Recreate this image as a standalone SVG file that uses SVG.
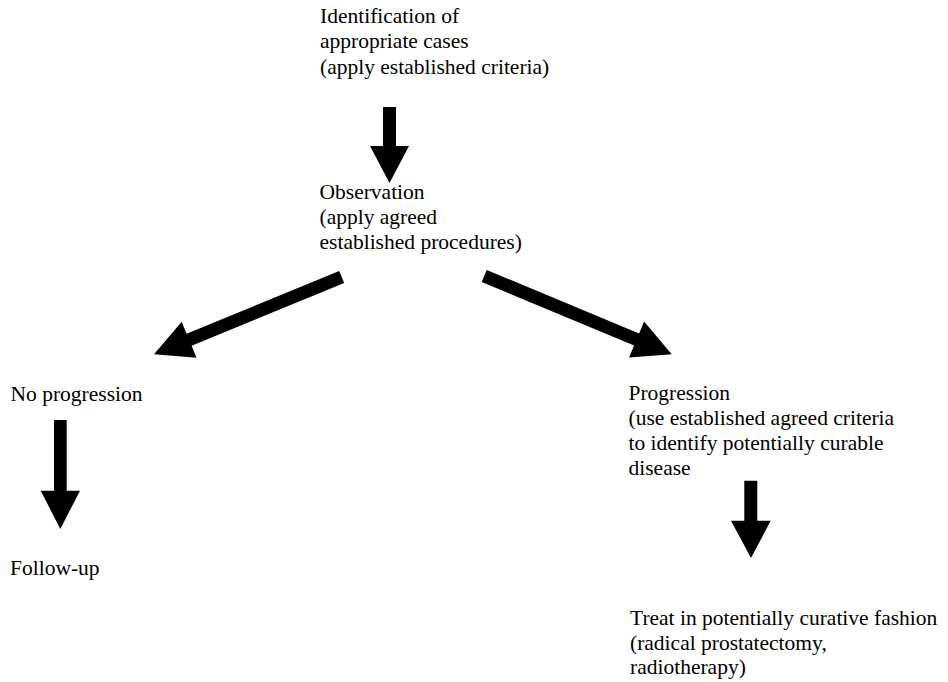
<svg xmlns="http://www.w3.org/2000/svg" width="948" height="682" viewBox="0 0 948 682">
<style>
text{font-family:'Liberation Serif','Tinos','Times New Roman',Times,'DejaVu Serif',serif;font-size:21.5px;fill:#000}
.arr{fill:#000;stroke:none}
</style>
<rect width="948" height="682" fill="#fff"/>
<g id="node-identification" font-family="Liberation Serif, Times New Roman, serif"><text x="320" y="22.5">Identification of</text><text x="320" y="48">appropriate cases</text><text x="320" y="73.5">(apply established criteria)</text></g>
<g id="node-observation" font-family="Liberation Serif, Times New Roman, serif"><text x="319.5" y="199">Observation</text><text x="319.5" y="224">(apply agreed</text><text x="319.5" y="249">established procedures)</text></g>
<g id="node-no-progression" font-family="Liberation Serif, Times New Roman, serif"><text x="10.5" y="400.5">No progression</text></g>
<g id="node-follow-up" font-family="Liberation Serif, Times New Roman, serif"><text x="10" y="575">Follow-up</text></g>
<g id="node-progression" font-family="Liberation Serif, Times New Roman, serif"><text x="628.5" y="399.5">Progression</text><text x="628.5" y="424.5">(use established agreed criteria</text><text x="628.5" y="449.5">to identify potentially curable</text><text x="628.5" y="474.5">disease</text></g>
<g id="node-treat" font-family="Liberation Serif, Times New Roman, serif"><text x="630" y="625">Treat in potentially curative fashion</text><text x="630" y="649.5">(radical prostatectomy,</text><text x="630" y="674">radiotherapy)</text></g>
<g id="connectors">
<polygon class="arr" points="383,107 396,107 396,146 409,146 389.5,183 370,146 383,146"/>
<polygon class="arr" points="339.2,271 344.2,283 191.6,345.8 196.5,357.8 154,354.3 181.7,321.8 186.6,333.8"/>
<polygon class="arr" points="486.7,269.9 481.7,281.9 634.1,345.6 629.1,357.6 671.7,354.3 644.1,321.6 639.1,333.6"/>
<polygon class="arr" points="54,420 66.7,420 66.7,490.7 80,490.7 60.3,529 40.7,490.7 54,490.7"/>
<polygon class="arr" points="744.3,480.7 757.3,480.7 757.3,520.7 770.7,520.7 751,558 731,520.7 744.3,520.7"/>
</g>
</svg>
